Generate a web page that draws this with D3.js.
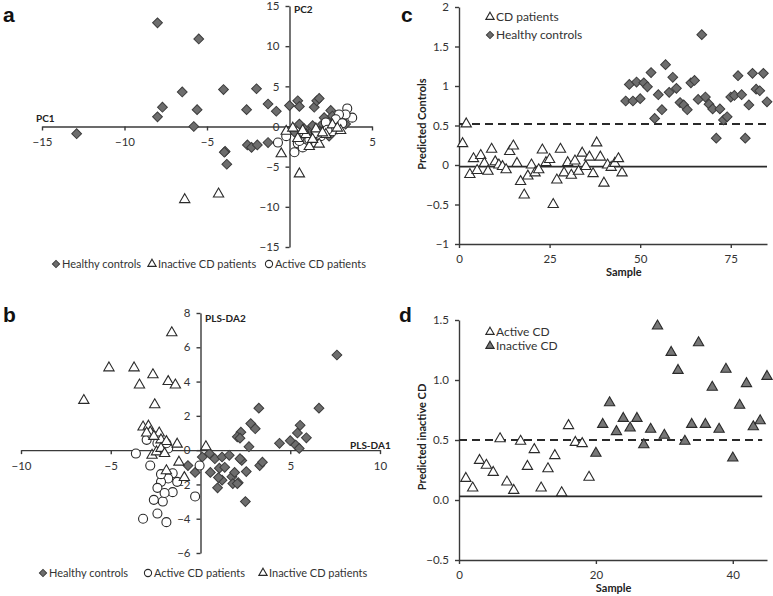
<!DOCTYPE html>
<html>
<head>
<meta charset="utf-8">
<script src="https://cdn.jsdelivr.net/npm/d3@7"></script>
<style>
  body { margin: 0; background: #fff; }
  svg { font-family: Lato, "Open Sans", sans-serif; }
  .axis path, .axis line { stroke: #3a3a3a; stroke-width: 1.4px; }
  .axis text { font-size: 11.5px; fill: #333; font-family: Lato, "Open Sans", sans-serif; }
  .lab { font-size: 10px; font-weight: bold; fill: #222; }
  .leg { font-size: 12px; fill: #333; }
  .leg.small { font-size: 11px; }
  .letter { font-family: Arial, "Liberation Sans", sans-serif; font-weight: bold; font-size: 21px; fill: #111; }
</style>
</head>
<body>
<script>
// panel a - PCA scores (PC1, PC2)
var pcaHealthy = [[-8.0,12.9],[-5.5,10.9],[-6.5,4.3],[-7.7,2.4],[-8.0,1.2],[-12.9,-0.9],[-5.8,0],[-5.6,2.1],
  [-4.0,4.6],[-2.0,4.7],[-2.6,2.1],[-1.3,2.8],[-0.8,1.9],[0,2.6],[0.5,3.2],[0.6,2.5],[1.5,2.4],[1.65,3.2],
  [1.8,3.5],[2.5,2.0],[-3.9,-3.1],[-2.55,-2.3],[-2.3,-2.6],[-1.95,-2.3],[-1.3,-2.0],[-3.8,-4.7],[-3.95,-3.2],
  [0.6,0.3],[0.3,-0.7],[1.2,-0.9],[1.8,-0.6],[2.0,0.3],[2.2,-0.2],[2.5,0.8],[2.7,0.2],[3.0,0.6],[3.2,1.0],
  [2.4,-1.2],[1.6,-1.5],[2.9,-0.3],[3.4,0.3],[2.1,1.1],[1.4,0.1],[0.9,-0.3],[2.6,1.3]];
var pcaInactive = [[-6.35,-9.1],[-4.3,-8.4],[0.6,-5.9],[-0.5,-3.4],[-0.2,-0.6],[3.1,-0.5],[1.0,-1.0],[1.8,-2.2],
  [1.2,-2.5],[0.5,-1.5],[2.2,-1.0],[2.6,0.2],[1.6,-0.3],[0.2,-0.2],[2.9,-0.2],[1.4,-1.6],[0.8,-0.5],[2.0,-0.8]];
var pcaActive = [[0.3,-3.2],[-0.7,-2.0],[0.5,-2.1],[0.8,-2.6],[1.4,-2.0],[3.5,2.25],[3.8,1.1],[3.4,1.5],[2.6,-0.6],
  [2.2,0.5],[1.9,-1.2],[1.2,-1.6],[0.6,-1.8],[3.0,1.5],[2.8,0.9],[2.3,-0.4],[-0.2,-1.2],[0.9,-0.9],[3.2,0.4],[1.6,-0.8]];

// panel b - PLS-DA scores
var plsHealthy = [[7.6,5.55],[6.6,2.45],[3.25,2.45],[2.8,1.55],[3.05,1.25],[2.25,1.05],[2.05,0.78],[2.2,0.7],
  [2.7,0.2],[4.4,0.4],[5.0,0.55],[5.4,1.0],[5.55,1.45],[5.9,0.72],[5.3,0.3],[5.5,0.1],[0.1,-0.4],[0.5,-0.2],
  [0.8,-0.5],[1.2,-0.4],[1.6,-0.3],[-0.7,-0.9],[-0.3,-1.3],[0.55,-1.3],[1.05,-1.05],[1.35,-1.0],[0.95,-2.2],
  [1.2,-1.75],[1.75,-1.55],[2.1,-1.9],[2.3,-0.6],[2.2,-0.5],[2.55,-1.25],[3.3,-0.9],[3.45,-0.7],[2.5,-3.0],
  [1.8,-1.95],[2.05,-1.95],[1.0,-1.6],[1.9,-1.3]];
var plsActive = [[-3.6,-0.2],[-2.8,-0.9],[-3.0,0.6],[-2.7,0.9],[-2.4,0.4],[-2.1,0],[-1.8,0.1],[-1.55,-1.35],
  [-1.3,-1.85],[-1.8,-1.65],[-2.2,-1.85],[-2.4,-2.2],[-1.55,-2.45],[-2.1,-3.0],[-2.6,-2.9],[-2.4,-3.7],
  [-3.2,-4.0],[-1.9,-4.2],[-0.3,-2.7],[-0.05,-0.9],[-1.9,0.4],[-2.2,-1.4],[-2.0,-2.5]];
var plsInactive = [[-1.6,6.85],[-5.1,4.8],[-3.7,4.8],[-2.65,4.4],[-3.4,3.8],[-1.8,4.0],[-1.4,3.8],[-6.5,2.9],
  [-2.55,2.65],[-3.2,1.35],[-2.9,1.4],[-2.8,1.05],[-3.0,1.0],[-2.3,1.0],[-2.2,0.6],[-1.9,0.5],[-1.3,0.35],
  [0.3,0.2],[-1.2,-0.7],[-1.9,-1.2],[-0.9,-1.6],[-2.7,-0.3],[-2.45,-0.1],[-2.2,0.1],[-2.6,0.8],[-2.0,-0.2]];

// panel c - predicted controls, samples 1..45 CD, 46..85 controls
var cdPred = [0.27,0.52,-0.12,0.08,-0.07,0.12,0.02,-0.08,0.2,0.04,0,-0.02,-0.06,0.17,0.24,0.02,-0.21,-0.38,
  -0.14,0,-0.1,-0.06,0.19,0.03,0.07,-0.5,-0.19,0.2,-0.1,0.03,-0.13,0.05,-0.08,0.15,-0.02,0.1,-0.11,0.28,0.1,
  -0.23,0,-0.03,0.02,0.08,-0.1];
var ctrlPred = [0.81,1.02,0.81,1.05,0.84,1.04,0.99,1.17,0.59,0.89,0.7,1.27,0.92,1.11,0.97,0.79,0.76,0.7,1.04,
  1.07,0.83,1.65,0.86,0.77,0.71,0.34,0.71,0.57,0.61,0.86,0.88,1.13,0.89,0.34,0.76,1.16,0.96,0.94,1.16,0.8];
var cThreshold = 0.52, cBase = -0.02;

// panel d - predicted inactive CD, samples 1..19 active, 20..45 inactive
var activePred = [0.18,0.1,0.33,0.29,0.23,0.51,0.15,0.08,0.49,0.28,0.42,0.1,0.26,0.37,0.06,0.62,0.48,0.47,0.19];
var inactivePred = [0.39,0.63,0.81,0.57,0.68,0.6,0.68,0.46,0.59,1.45,0.54,1.23,1.08,0.49,0.63,1.31,0.63,0.94,
  0.59,1.09,0.35,0.79,0.97,0.61,0.66,1.03];
var dThreshold = 0.5, dBase = 0.03;

var svg = d3.select("body").append("svg").attr("width", 773).attr("height", 596);
var fmt = d3.format("");

function diamond(g, pts, xs, ys, sz) {
  g.selectAll(null).data(pts).enter().append("path")
    .attr("d", d3.symbol(d3.symbolSquare, sz || 48)())
    .attr("transform", function (d) { return "translate(" + xs(d[0]) + "," + ys(d[1]) + ") rotate(45)"; })
    .style("fill", "#6d6d6d").style("stroke", "#3c3c3c").style("stroke-width", 1);
}
function triangle(g, pts, xs, ys, fill, sz) {
  g.selectAll(null).data(pts).enter().append("path")
    .attr("d", d3.symbol(d3.symbolTriangle, sz || 46)())
    .attr("transform", function (d) { return "translate(" + xs(d[0]) + "," + ys(d[1]) + ")"; })
    .style("fill", fill || "#fff").style("stroke", "#2a2a2a").style("stroke-width", 1.1);
}
function circle(g, pts, xs, ys, r) {
  g.selectAll(null).data(pts).enter().append("circle")
    .attr("cx", function (d) { return xs(d[0]); }).attr("cy", function (d) { return ys(d[1]); })
    .attr("r", r || 4.5)
    .style("fill", "#fff").style("stroke", "#2a2a2a").style("stroke-width", 1.1);
}
function legendItem(g, x, y, kind, text, cls) {
  var p = [[0, 0]], id = d3.scaleIdentity();
  var lg = g.append("g").attr("transform", "translate(" + x + "," + y + ")");
  if (kind == "diamond") diamond(lg, p, id, id, 26);
  else if (kind == "circle") circle(lg, p, id, id, 3.6);
  else if (kind == "tri") triangle(lg, p, id, id, "#fff", 30);
  else triangle(lg, p, id, id, "#777", 30);
  lg.append("text").attr("class", "leg " + (cls || "")).attr("x", 6).attr("y", 4).text(text);
}
function letter(x, y, t) {
  svg.append("text").attr("class", "letter").attr("x", x).attr("y", y).text(t);
}

// ---- panel a
var xa = d3.scaleLinear().domain([-15, 5]).range([42, 372]);
var ya = d3.scaleLinear().domain([-15, 15]).range([247, 6]);
var ga = svg.append("g");
ga.append("g").attr("class", "axis").attr("transform", "translate(0," + ya(0) + ")")
  .call(d3.axisBottom(xa).tickValues([-15, -10, -5, 5]).tickSize(4).tickSizeOuter(0).tickPadding(7).tickFormat(fmt));
ga.append("g").attr("class", "axis").attr("transform", "translate(" + xa(0) + ",0)")
  .call(d3.axisLeft(ya).tickValues([-15, -10, -5, 0, 5, 10, 15]).tickSize(4).tickSizeOuter(0).tickPadding(6).tickFormat(fmt));
ga.append("text").attr("class", "lab").attr("x", 36).attr("y", 122).text("PC1");
ga.append("text").attr("class", "lab").attr("x", 294).attr("y", 13).text("PC2");
diamond(ga, pcaHealthy, xa, ya);
circle(ga, pcaActive, xa, ya);
triangle(ga, pcaInactive, xa, ya);
legendItem(ga, 56, 264, "diamond", "Healthy controls", "small");
legendItem(ga, 152, 264, "tri", "Inactive CD patients", "small");
legendItem(ga, 269, 264, "circle", "Active CD patients", "small");
letter(3, 22, "a");

// ---- panel b
var xb = d3.scaleLinear().domain([-10, 10]).range([21, 380]);
var yb = d3.scaleLinear().domain([-6, 8]).range([553, 313]);
var gb = svg.append("g");
gb.append("g").attr("class", "axis").attr("transform", "translate(0," + yb(0) + ")")
  .call(d3.axisBottom(xb).tickValues([-10, -5, 5, 10]).tickSize(4).tickSizeOuter(0).tickPadding(8).tickFormat(fmt));
gb.append("g").attr("class", "axis").attr("transform", "translate(" + xb(0) + ",0)")
  .call(d3.axisLeft(yb).tickValues([-6, -4, -2, 0, 2, 4, 6, 8]).tickSize(4).tickSizeOuter(0).tickPadding(6).tickFormat(fmt));
gb.append("text").attr("class", "lab").attr("x", 205).attr("y", 322).text("PLS-DA2");
gb.append("text").attr("class", "lab").attr("x", 350).attr("y", 449).text("PLS-DA1");
diamond(gb, plsHealthy, xb, yb);
circle(gb, plsActive, xb, yb);
triangle(gb, plsInactive, xb, yb);
legendItem(gb, 43, 573, "diamond", "Healthy controls", "small");
legendItem(gb, 148, 573, "circle", "Active CD patients", "small");
legendItem(gb, 263, 573, "tri", "Inactive CD patients", "small");
letter(3, 322, "b");

// ---- panel c
var xc = d3.scaleLinear().domain([0, 85]).range([459, 767]);
var yc = d3.scaleLinear().domain([-1, 2]).range([244, 7]);
var gc = svg.append("g");
gc.append("g").attr("class", "axis").attr("transform", "translate(0," + yc(-1) + ")")
  .call(d3.axisBottom(xc).tickValues([0, 25, 50, 75]).tickSize(4).tickSizeOuter(0).tickPadding(7).tickFormat(fmt));
gc.append("g").attr("class", "axis").attr("transform", "translate(" + xc(0) + ",0)")
  .call(d3.axisLeft(yc).tickValues([-1, -0.5, 0, 0.5, 1, 1.5, 2]).tickSize(4).tickSizeOuter(0).tickPadding(6).tickFormat(fmt));
gc.append("line").attr("x1", xc(0)).attr("x2", xc(85)).attr("y1", yc(cBase)).attr("y2", yc(cBase))
  .style("stroke", "#2a2a2a").style("stroke-width", 1.6);
gc.append("line").attr("x1", xc(0)).attr("x2", xc(85)).attr("y1", yc(cThreshold)).attr("y2", yc(cThreshold))
  .style("stroke", "#2a2a2a").style("stroke-width", 2).style("stroke-dasharray", "8,5");
diamond(gc, ctrlPred.map(function (v, i) { return [i + 46, v]; }), xc, yc);
triangle(gc, cdPred.map(function (v, i) { return [i + 1, v]; }), xc, yc);
gc.append("text").attr("class", "lab").attr("x", xc(45.5)).attr("y", 276).attr("text-anchor", "middle")
  .style("font-size", "11px").text("Sample");
gc.append("text").attr("class", "lab").attr("text-anchor", "middle").style("font-size", "11px")
  .attr("transform", "translate(426,124) rotate(-90)").text("Predicted Controls");
legendItem(gc, 490, 17, "tri", "CD patients");
legendItem(gc, 490, 35, "diamond", "Healthy controls");
letter(401, 22, "c");

// ---- panel d
var xd = d3.scaleLinear().domain([0, 45]).range([459, 767]);
var yd = d3.scaleLinear().domain([-0.5, 1.5]).range([560, 320]);
var gd = svg.append("g");
gd.append("g").attr("class", "axis").attr("transform", "translate(0," + yd(-0.5) + ")")
  .call(d3.axisBottom(xd).tickValues([0, 20, 40]).tickSize(4).tickSizeOuter(0).tickPadding(7).tickFormat(fmt));
gd.append("g").attr("class", "axis").attr("transform", "translate(" + xd(0) + ",0)")
  .call(d3.axisLeft(yd).tickValues([-0.5, 0, 0.5, 1, 1.5]).tickSize(4).tickSizeOuter(0).tickPadding(6).tickFormat(d3.format(".1f")));
gd.append("line").attr("x1", xd(0)).attr("x2", xd(44.3)).attr("y1", yd(dBase)).attr("y2", yd(dBase))
  .style("stroke", "#2a2a2a").style("stroke-width", 1.6);
gd.append("line").attr("x1", xd(0)).attr("x2", xd(44.3)).attr("y1", yd(dThreshold)).attr("y2", yd(dThreshold))
  .style("stroke", "#2a2a2a").style("stroke-width", 2).style("stroke-dasharray", "8,5");
triangle(gd, activePred.map(function (v, i) { return [i + 1, v]; }), xd, yd);
triangle(gd, inactivePred.map(function (v, i) { return [i + 20, v]; }), xd, yd, "#777");
gd.append("text").attr("class", "lab").attr("x", xd(22.6)).attr("y", 592).attr("text-anchor", "middle")
  .style("font-size", "11px").text("Sample");
gd.append("text").attr("class", "lab").attr("text-anchor", "middle").style("font-size", "11px")
  .attr("transform", "translate(426,437) rotate(-90)").text("Predicted inactive CD");
legendItem(gd, 490, 332, "tri", "Active CD");
legendItem(gd, 490, 346, "fill", "Inactive CD");
letter(399, 322, "d");
</script>
</body>
</html>
